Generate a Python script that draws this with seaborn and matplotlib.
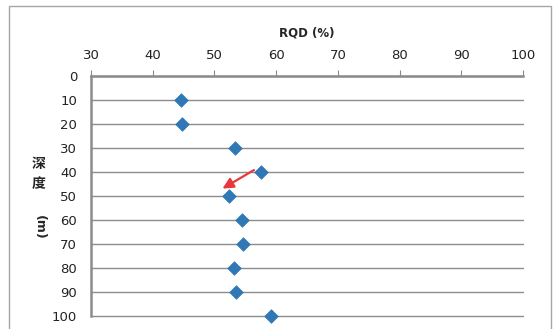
import matplotlib
matplotlib.use("Agg")
import matplotlib.pyplot as plt
from matplotlib.patches import Rectangle
import seaborn as sns
import pandas as pd

# RQD readings by borehole depth
depth_m = [10, 20, 30, 40, 50, 60, 70, 80, 90, 100]
rqd_pct = [44.6, 44.7, 53.4, 57.6, 52.4, 54.4, 54.6, 53.1, 53.5, 59.2]
x_ticks = [30, 40, 50, 60, 70, 80, 90, 100]
y_ticks = [0, 10, 20, 30, 40, 50, 60, 70, 80, 90, 100]

df = pd.DataFrame({"RQD": rqd_pct, "depth": depth_m})

sns.set_style("white")
plt.rcParams["font.family"] = ["DejaVu Sans", "Noto Sans CJK SC"]

W, H = 554, 329
fig = plt.figure(figsize=(W / 100, H / 100), dpi=100)
fig.patch.set_facecolor("white")

# outer chart frame
fig.patches.append(Rectangle((9 / W, -0.05), (551 - 9) / W, 1.05 - 6 / H,
                             transform=fig.transFigure, fill=False,
                             edgecolor="#a6a6a6", linewidth=1.0))

ax = fig.add_axes([91 / W, 1 - 316 / H, (523 - 91) / W, (316 - 76) / H])

sns.scatterplot(data=df, x="RQD", y="depth", ax=ax, marker="D", s=48,
                color="#2f78b5", edgecolor="#2f78b5", linewidth=0.5,
                clip_on=False, zorder=5)

ax.set_xlim(30, 100)
ax.set_ylim(100, 0)
ax.set_xticks(x_ticks)
ax.set_yticks(y_ticks)
ax.xaxis.tick_top()
ax.xaxis.set_label_position("top")
ax.tick_params(axis="x", which="both", direction="out", length=4, width=0.8,
               color="#888888", labelsize=9.5, pad=6, labelcolor="#222222")
ax.tick_params(axis="y", which="both", direction="out", length=0,
               labelsize=9.5, pad=10, labelcolor="#222222")

ax.yaxis.grid(True, color="#8c8c8c", linewidth=1.0)
ax.xaxis.grid(False)
ax.set_axisbelow(True)
for gl in ax.get_ygridlines():
    gl.set_clip_on(False)

for side in ["right", "bottom"]:
    ax.spines[side].set_visible(False)
for side in ["left", "top"]:
    ax.spines[side].set_color("#8c8c8c")
    ax.spines[side].set_linewidth(1.8)

ax.set_xlabel("RQD (%)", fontsize=8.5, fontweight="bold", labelpad=9)
ax.set_ylabel("")

# vertical depth label, one glyph per line
for ch, ypx in [("深", 164), ("度", 184)]:
    fig.text(39 / W, 1 - ypx / H, ch, ha="center", va="center",
             fontsize=10, fontweight="bold", family=["Noto Sans CJK SC"])
fig.text(39 / W, 1 - 227 / H, "(m)", ha="center", va="center",
         fontsize=9, fontweight="bold", rotation=-90)

# pointer toward the 50 m reading
ax.annotate("", xy=(51.3, 46.9), xytext=(56.4, 39.2),
            arrowprops=dict(arrowstyle="-|>", color="#e8383d", lw=1.6,
                            mutation_scale=16, shrinkA=0, shrinkB=0))

fig.savefig("out.png", dpi=100, facecolor="white")
